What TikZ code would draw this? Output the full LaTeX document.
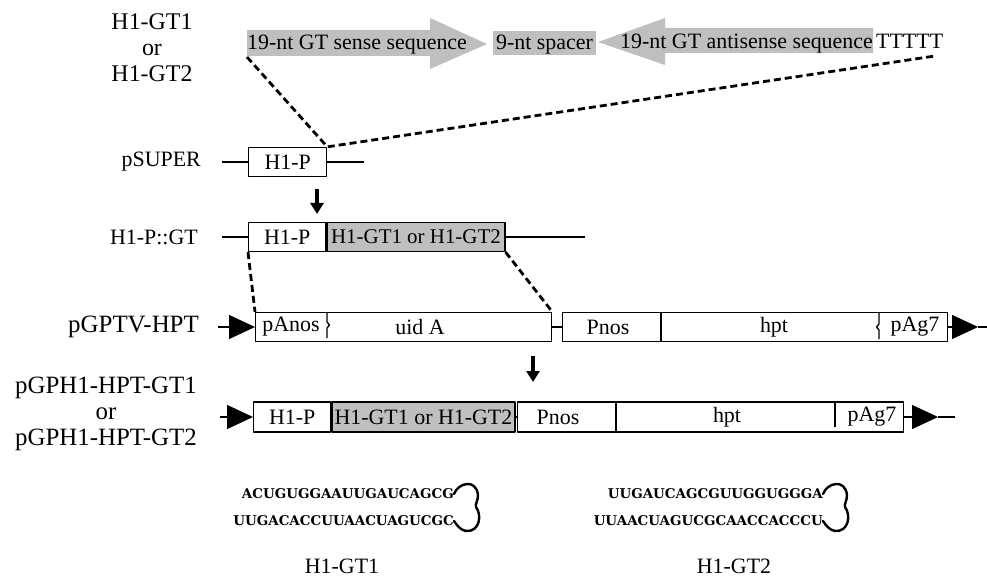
\documentclass[tikz,border=0pt]{standalone}
\usepackage{fontspec}
\setmainfont{Liberation Serif}
\newfontfamily\seqfont{DejaVu Serif}
\usetikzlibrary{arrows.meta}

\tikzset{
  seg/.style={draw=black, line width=1.3bp, minimum height=29bp, inner sep=0pt, anchor=west, font=\fontsize{22}{26}\selectfont},
  gtseg/.style={seg, fill=black!25},
  txt/.style={inner sep=0pt, font=\fontsize{22}{26}\selectfont},
  bigtxt/.style={inner sep=0pt, align=center, font=\fontsize{24}{26}\selectfont},
  plasmid/.style={inner sep=0pt, align=center, font=\fontsize{25}{26}\selectfont},
  seq/.style={inner sep=0pt, anchor=east, font=\seqfont\bfseries\fontsize{13.5}{16}\selectfont},
  dna/.style={line width=1.3bp, draw=black},
  cut/.style={line width=2.8bp, dash pattern=on 7bp off 4bp},
  shaft/.style={line width=3.4bp, -{Triangle[length=11bp,width=13bp]}},
  prom/.style={dna, -{Triangle[length=26bp,width=24bp]}},
  hairloop/.style={line width=2.4bp, line cap=round},
}

\begin{document}
\begin{tikzpicture}[>=latex,line join=bevel,x=1bp,y=-1bp]
\useasboundingbox (0,0) rectangle (987,579);
%% insert: sense -- spacer -- antisense
\fill[black!25] (247,30) -- (430,30) -- (430,18) -- (487,44) -- (430,69) -- (430,56) -- (247,56) -- cycle;
\fill[black!25] (493,31) rectangle (596,55);
\fill[black!25] (873,28) -- (665,28) -- (665,18) -- (598,42) -- (665,65) -- (665,53) -- (873,53) -- cycle;
\node (insName) at (152,48) [bigtxt] {H1-GT1\\or\\H1-GT2};
\node (sense) at (247,50) [txt,anchor=base west] {19-nt GT sense sequence};
\node (spacer) at (544.5,50) [txt,anchor=base] {9-nt spacer};
\node (antisense) at (873,49) [txt,anchor=base east] {19-nt GT antisense sequence};
\node (polyT) at (876,49) [txt,anchor=base west] {TTTTT};
\coordinate (senseFoot) at (247,57);
\coordinate (polyFoot) at (935,56);
%
%% pSUPER
\node (pSuper) at (201,162) [txt,anchor=east] {pSUPER};
\node (superP) at (248,162) [seg,minimum width=78bp] {H1-P};
\coordinate (superL) at (222,162);
\coordinate (superR) at (364,162);
\draw [dna] (superL) -- (superP.west);
\draw [dna] (superP.east) -- (superR);
\draw [cut] (senseFoot) -- (superP.north east) -- (polyFoot);
\coordinate (stepA0) at (317,189);
\coordinate (stepA1) at (317,214);
\draw [shaft] (stepA0) -- (stepA1);
%
%% H1-P::GT
\node (pH1GT) at (198,237) [txt,anchor=east] {H1-P::GT};
\node (gtP) at (248,237) [seg,minimum width=77bp] {H1-P};
\node (gtGT) at (gtP.east) [gtseg,minimum width=178bp,font=\fontsize{21}{26}\selectfont] {H1-GT1 or H1-GT2};
\coordinate (gtL) at (222,237);
\coordinate (gtR) at (585,237);
\draw [dna] (gtL) -- (gtP.west);
\draw [dna] (gtGT.east) -- (gtR);
%
%% pGPTV-HPT
\node (pGPTV) at (199,327) [plasmid,anchor=east] {pGPTV-HPT};
\node (gptvA) at (255,327) [seg,minimum width=296bp] {};
\node (gptvB) at (562,327) [seg,minimum width=385bp] {};
\node (gptvAnos) at (291,327) [txt] {pAnos};
\node (gptvUid) at (420,327) [txt] {uid A};
\node (gptvPnos) at (608,327) [txt] {Pnos};
\node (gptvHpt) at (774,327) [txt] {hpt};
\node (gptvAg) at (915,327) [txt] {pAg7};
\draw [dna] (327,312.5) -- (327,322) -- (329.5,325) -- (327,328) -- (327,338);
\draw [dna] (661,312.5) -- (661,341.5);
\draw [dna] (879,312.5) -- (879,324) -- (876.5,327) -- (879,330) -- (879,339);
\draw [dna] (gptvA.east) -- (gptvB.west);
\coordinate (gptvIn) at (218,327);
\coordinate (gptvTip) at (978,327);
\coordinate (gptvOut) at (987,327);
\draw [prom] (gptvIn) -- (gptvA.west);
\draw [prom] (gptvB.east) -- (gptvTip);
\draw [dna] (gptvTip) -- (gptvOut);
\draw [cut] (gtP.south west) -- (gptvA.north west);
\draw [cut] (gtGT.south east) -- (gptvA.north east);
\coordinate (stepB0) at (533,356);
\coordinate (stepB1) at (533,382);
\draw [shaft] (stepB0) -- (stepB1);
%
%% pGPH1-HPT-GT1/2
\node (pGPH) at (106,414) [plasmid] {pGPH1-HPT-GT1\\or\\pGPH1-HPT-GT2};
\node (gphP) at (253,417) [seg,minimum width=77bp,minimum height=30bp] {H1-P};
\node (gphGT) at (gphP.east) [gtseg,minimum width=183bp,minimum height=30bp] {H1-GT1 or H1-GT2};
\node (gphB) at (517,417) [seg,minimum width=386bp,minimum height=30bp] {};
\node (gphPnos) at (558,417) [txt] {Pnos};
\node (gphHpt) at (727,417) [txt] {hpt};
\node (gphAg) at (872,417) [txt] {pAg7};
\draw [dna] (616,402) -- (616,432);
\draw [dna] (835,402) -- (835,427);
\draw [dna] (gphGT.east) -- (gphB.west);
\coordinate (gphIn) at (220,417);
\coordinate (gphTip) at (938,417);
\coordinate (gphOut) at (955,417);
\draw [prom] (gphIn) -- (gphP.west);
\draw [prom] (gphB.east) -- (gphTip);
\draw [dna] (gphTip) -- (gphOut);
%
%% hairpins
\node (gt1Top) at (454,494) [seq] {ACUGUGGAAUUGAUCAGCG};
\node (gt1Bot) at (454,521) [seq] {UUGACACCUUAACUAGUCGC};
\draw [hairloop] (gt1Top.east) .. controls (458,483) and (476,478) .. (478,495) .. controls (478,501) and (475,504) .. (476,507) .. controls (482,515) and (480,532) .. (466,531) .. controls (461,530) and (458,527) .. (gt1Bot.east);
\node (gt1Name) at (342,566) [txt] {H1-GT1};
\node (gt2Top) at (823,494) [seq] {UUGAUCAGCGUUGGUGGGA};
\node (gt2Bot) at (823,521) [seq] {UUAACUAGUCGCAACCACCCU};
\draw [hairloop] (gt2Top.east) .. controls (827,483) and (845,478) .. (847,495) .. controls (847,501) and (844,504) .. (845,507) .. controls (851,515) and (849,532) .. (835,531) .. controls (830,530) and (827,527) .. (gt2Bot.east);
\node (gt2Name) at (734,566) [txt] {H1-GT2};
%
\end{tikzpicture}
\end{document}
